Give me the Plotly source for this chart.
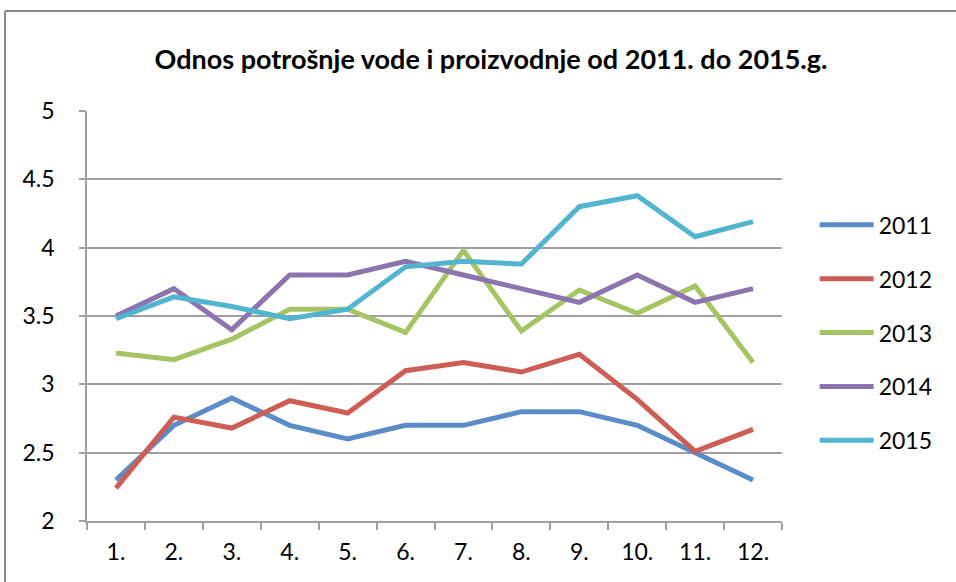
import plotly.graph_objects as go

months = ["1.", "2.", "3.", "4.", "5.", "6.", "7.", "8.", "9.", "10.", "11.", "12."]
y2011 = [2.30, 2.70, 2.90, 2.70, 2.60, 2.70, 2.70, 2.80, 2.80, 2.70, 2.50, 2.30]
y2012 = [2.24, 2.76, 2.68, 2.88, 2.79, 3.10, 3.16, 3.09, 3.22, 2.89, 2.51, 2.67]
y2013 = [3.23, 3.18, 3.33, 3.55, 3.55, 3.38, 3.98, 3.39, 3.69, 3.52, 3.72, 3.16]
y2014 = [3.50, 3.70, 3.40, 3.80, 3.80, 3.90, 3.80, 3.70, 3.60, 3.80, 3.60, 3.70]
y2015 = [3.48, 3.64, 3.57, 3.48, 3.55, 3.86, 3.90, 3.88, 4.30, 4.38, 4.08, 4.19]

series = [
    ("2011", y2011, "#5A8DC8"),
    ("2012", y2012, "#CD5E55"),
    ("2013", y2013, "#A6C463"),
    ("2014", y2014, "#8C74AF"),
    ("2015", y2015, "#52B5CF"),
]

FONT = "Lato"
W, H = 956, 582
L, T, PW, PH = 87, 111, 695, 410

fig = go.Figure()
for name, vals, color in series:
    fig.add_trace(go.Scatter(
        x=months, y=vals, name=name, mode="lines",
        line=dict(color=color, width=5),
        legendgroup=name,
    ))

fig.update_layout(
    width=W, height=H,
    margin=dict(l=L, r=W - L - PW, t=T, b=H - T - PH, autoexpand=False),
    paper_bgcolor="white", plot_bgcolor="white",
    font=dict(family=FONT, size=23, color="black"),
    title=dict(
        text="<b>Odnos potrošnje vode i proizvodnje od 2011. do 2015.g.</b>",
        x=491 / W, xanchor="center", xref="container",
        y=1 - 60 / H, yanchor="middle", yref="container",
        font=dict(family=FONT, size=27, color="black"),
    ),
    legend=dict(
        x=1.047, xanchor="left", y=0.459, yanchor="middle",
        font=dict(family=FONT, size=23),
        tracegroupgap=21,
        itemwidth=54,
        bgcolor="rgba(0,0,0,0)",
    ),
    showlegend=True,
)

fig.update_xaxes(
    type="category", showgrid=False, showline=True, linecolor="#A0A0A0", linewidth=1.5,
    ticks="outside", tickson="boundaries", ticklen=7, tickcolor="#A0A0A0", tickwidth=1.5,
    ticklabelstandoff=10, range=[-0.5, 11.5],
)
fig.update_yaxes(
    range=[2, 5], dtick=0.5, showgrid=True, gridcolor="#A0A0A0", gridwidth=1.5,
    showline=True, linecolor="#A0A0A0", linewidth=1.5, zeroline=False,
    ticks="outside", ticklen=6, tickcolor="#A0A0A0", tickwidth=1.5,
    ticklabelstandoff=20,
)

# outer chart border: top and left edges only (the original is cropped)
bx = (5 - L) / PW
by = (PH + T - 11) / PH
border = dict(color="#888888", width=2)
fig.add_shape(type="line", xref="paper", yref="paper",
              x0=bx, x1=(W - L) / PW, y0=by, y1=by, line=border, layer="above")
fig.add_shape(type="line", xref="paper", yref="paper",
              x0=bx, x1=bx, y0=by, y1=-(H - T - PH) / PH, line=border, layer="above")

fig.write_html(
    "out.html",
    config={"displayModeBar": False},
    post_script="document.body.style.margin='0';document.body.style.overflow='hidden';",
)
